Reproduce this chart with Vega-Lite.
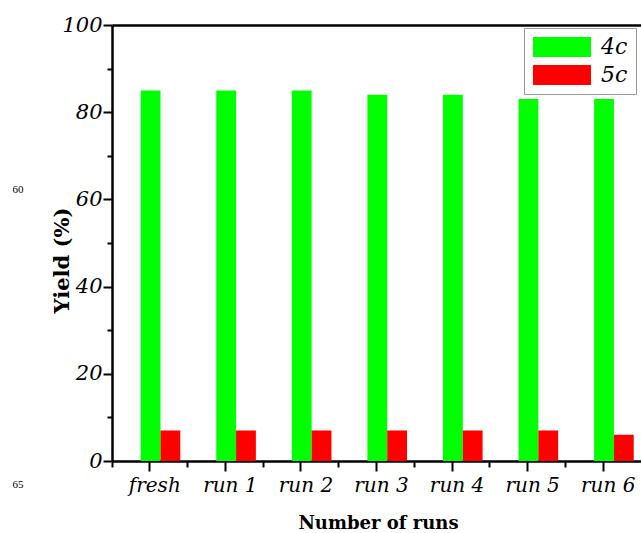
{
  "$schema": "https://vega.github.io/schema/vega-lite/v6.json",
  "width": 529,
  "height": 436,
  "autosize": {"type": "none"},
  "padding": {"left": 112, "top": 25, "right": 0, "bottom": 72},
  "background": "white",
  "config": {"view": {"stroke": null}, "font": "DejaVu Serif", "axis": {"grid": false}, "legend": {"strokeWidth": 1}},
  "datasets": {
    "yields": [
      {"run": "fresh", "catalyst": "4c", "yield": 85},
      {"run": "fresh", "catalyst": "5c", "yield": 7},
      {"run": "run 1", "catalyst": "4c", "yield": 85},
      {"run": "run 1", "catalyst": "5c", "yield": 7},
      {"run": "run 2", "catalyst": "4c", "yield": 85},
      {"run": "run 2", "catalyst": "5c", "yield": 7},
      {"run": "run 3", "catalyst": "4c", "yield": 84},
      {"run": "run 3", "catalyst": "5c", "yield": 7},
      {"run": "run 4", "catalyst": "4c", "yield": 84},
      {"run": "run 4", "catalyst": "5c", "yield": 7},
      {"run": "run 5", "catalyst": "4c", "yield": 83},
      {"run": "run 5", "catalyst": "5c", "yield": 7},
      {"run": "run 6", "catalyst": "4c", "yield": 83},
      {"run": "run 6", "catalyst": "5c", "yield": 6}
    ],
    "lines": [
      {"line": "60", "pos": 62.2},
      {"line": "65", "pos": -5.5}
    ]
  },
  "layer": [
    {
      "data": {"name": "yields"},
      "mark": {"type": "bar"},
      "encoding": {
        "x": {
          "field": "run", "type": "nominal",
          "sort": ["fresh", "run 1", "run 2", "run 3", "run 4", "run 5", "run 6"],
          "scale": {"paddingInner": 0, "paddingOuter": 0},
          "axis": {
            "orient": "bottom", "title": "Number of runs", "labelAngle": 0,
            "labelFont": "DejaVu Serif", "labelFontStyle": "italic", "labelFontSize": 20,
            "labelColor": "black", "labelPadding": 4, "labelBaseline": "top", "labelOffset": 5,
            "tickSize": 10, "tickWidth": 2, "tickColor": "black",
            "domainColor": "black", "domainWidth": 2.5,
            "titleFont": "DejaVu Serif", "titleFontWeight": "bold", "titleFontSize": 18,
            "titleColor": "black", "titlePadding": 19, "titleX": 266
          }
        },
        "xOffset": {
          "field": "catalyst", "type": "nominal",
          "scale": {"domain": ["4c", "5c"], "paddingInner": 0, "paddingOuter": 0.908, "align": 0.798}
        },
        "y": {
          "field": "yield", "type": "quantitative",
          "scale": {"domain": [0, 100], "nice": false},
          "axis": {
            "orient": "left",
            "values": [0, 20, 40, 60, 80, 100],
            "labelFont": "DejaVu Serif", "labelFontStyle": "italic", "labelFontSize": 21,
            "labelColor": "black", "labelPadding": 1,
            "tickSize": 9,
            "tickWidth": 2, "tickColor": "black",
            "domainColor": "black", "domainWidth": 2.5,
            "title": "Yield  (%)",
            "titleFont": "DejaVu Serif", "titleFontWeight": "bold", "titleFontSize": 21,
            "titleColor": "black", "titlePadding": -11, "titleY": 235
          }
        },
        "color": {
          "field": "catalyst", "type": "nominal",
          "scale": {"domain": ["4c", "5c"], "range": ["#00ff00", "#ff0000"]},
          "legend": {
            "orient": "none", "legendX": 412, "legendY": 3, "title": null,
            "padding": 8, "strokeColor": "#999999", "fillColor": "white",
            "symbolType": "M-1,-1H4.8V1H-1Z", "symbolSize": 400,
            "symbolStrokeWidth": 0, "symbolOpacity": 1,
            "labelFont": "DejaVu Serif", "labelFontStyle": "italic", "labelFontSize": 22,
            "labelColor": "black", "labelOffset": 47, "rowPadding": 6
          }
        }
      }
    },
    {
      "data": {"name": "yields"},
      "mark": {"type": "bar", "opacity": 0},
      "encoding": {
        "x": {
          "field": "run", "type": "nominal",
          "sort": ["fresh", "run 1", "run 2", "run 3", "run 4", "run 5", "run 6"],
          "scale": {"paddingInner": 0, "paddingOuter": 0},
          "axis": {
            "orient": "bottom", "bandPosition": 0, "labels": false, "domain": false,
            "title": null, "tickSize": 6, "tickWidth": 2, "tickColor": "black"
          }
        },
        "y": {
          "field": "yield", "type": "quantitative",
          "scale": {"domain": [0, 100], "nice": false},
          "axis": {
            "orient": "left", "values": [10, 30, 50, 70, 90], "labels": false,
            "domain": false, "title": null, "tickSize": 5, "tickWidth": 2, "tickColor": "black"
          }
        }
      }
    },
    {
      "data": {"name": "yields"},
      "mark": {"type": "bar", "opacity": 0},
      "encoding": {
        "x": {
          "field": "run", "type": "nominal",
          "sort": ["fresh", "run 1", "run 2", "run 3", "run 4", "run 5", "run 6"],
          "scale": {"paddingInner": 0, "paddingOuter": 0},
          "axis": {
            "orient": "top", "labels": false, "ticks": false, "title": null,
            "domainColor": "black", "domainWidth": 2.5
          }
        }
      }
    },
    {
      "data": {"name": "lines"},
      "mark": {"type": "text", "font": "Liberation Serif", "fontSize": 11, "align": "center", "baseline": "middle", "color": "black"},
      "encoding": {
        "text": {"field": "line", "type": "nominal"},
        "y": {"field": "pos", "type": "quantitative", "scale": {"domain": [0, 100], "nice": false}, "axis": null},
        "x": {"value": -94}
      }
    }
  ],
  "resolve": {"axis": {"x": "independent", "y": "independent"}}
}
